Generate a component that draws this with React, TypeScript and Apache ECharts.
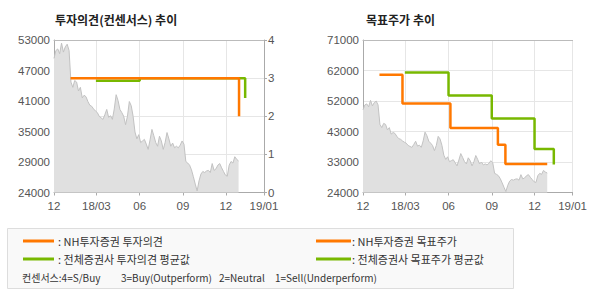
import React, { useEffect, useRef } from "react";
import * as echarts from "echarts";

// ---- axis domain ----
const axisStartDate = "2017-12-01";
const axisEndDate = "2019-02-20";
const xTickDates = ["2017-12-01", "2018-03-01", "2018-06-01", "2018-09-01", "2018-12-01", "2019-02-20"];
const xTickLabels = ["12", "18/03", "06", "09", "12", "19/01"];

// ---- left chart tick labels ----
const opinionPriceTickLabels = ["24000", "29000", "35000", "41000", "47000", "53000"];
const opinionPriceMin = 24000;
const opinionPriceMax = 53000;
const opinionMin = 0;
const opinionMax = 4;

// ---- right chart tick labels ----
const targetTickLabels = ["24000", "33000", "43000", "52000", "62000", "71000"];
const targetMin = 24000;
const targetMax = 71000;

// ---- stock price (sampled every 4 days from priceStartDate) ----
const priceStartDate = "2017-12-01";
const priceStepDays = 4;
const priceValues = [
  49500, 51000, 51300, 50400, 52400, 50700, 51700, 52200, 51000, 45000,
  44000, 45300, 45000, 43300, 44000, 42000, 42500, 42200, 41300, 40600,
  40400, 39900, 39500, 39200, 38500, 38200, 37900, 38800, 39800, 38300,
  38600, 37900, 39900, 42600, 41500, 39800, 39200, 38500, 36900, 38500,
  41300, 40500, 38500, 35500, 34200, 35000, 33500, 33800, 34100, 33200,
  32200, 34000, 36000, 34800, 33500, 32800, 34700, 33800, 32200, 33500,
  35400, 34200, 32800, 33400, 32500, 32800, 32500, 33000, 33800, 33200,
  29900, 29600, 29200, 28300, 27000, 25600, 24300, 26200, 27500, 28000,
  27800, 28100, 28200, 27800, 29500, 28200, 28500, 29200, 29500, 28700,
  28000, 27300, 27100, 29200, 29900, 29600, 30800, 30300, 30000,
];

// ---- investment opinion ----
const nhOpinionDates = ["2018-01-05", "2018-12-29"];
const nhOpinionValues = [3, 2];
const avgOpinionDates = ["2018-02-28", "2018-06-01", "2019-01-11"];
const avgOpinionValues = [2.93, 3, 2.48];

// ---- target price ----
const nhTargetDates = ["2018-01-05", "2018-02-23", "2018-06-05", "2018-09-14", "2018-09-30", "2018-12-28"];
const nhTargetValues = [60300, 51400, 43900, 38700, 32800, 32800];
const avgTargetDates = ["2018-02-28", "2018-06-01", "2018-09-01", "2018-12-01", "2019-01-11"];
const avgTargetValues = [61000, 53900, 46800, 37400, 32600];

// ---- legend texts ----
const legendLeft = [": NH투자증권 투자의견", ": 전체증권사 투자의견 평균값"];
const legendRight = [": NH투자증권 목표주가", ": 전체증권사 목표주가 평균값"];
const consensusTexts = ["컨센서스:4=S/Buy", "3=Buy(Outperform)", "2=Neutral", "1=Sell(Underperform)"];

const ORANGE = "#ff7800";
const GREEN = "#78b800";

const DAY = 86400000;
function toDate(s: string) {
  return new Date(s + "T00:00:00Z");
}
function fmt(d: Date) {
  return d.toISOString().slice(0, 10);
}
function buildCategories(): string[] {
  const out: string[] = [];
  const end = toDate(axisEndDate).getTime();
  for (let t = toDate(axisStartDate).getTime(); t <= end; t += DAY) out.push(fmt(new Date(t)));
  return out;
}
function pair(dates: string[], values: number[]) {
  return dates.map((d, i) => [d, values[i]]);
}

export default function App() {
  const ref = useRef<HTMLDivElement>(null);
  useEffect(() => {
    document.body.style.margin = "0";
    if (!ref.current) return;
    const chart = echarts.init(ref.current, null, { renderer: "svg" });
    const cats = buildCategories();
    const priceData = priceValues.map((v, i) => [
      fmt(new Date(toDate(priceStartDate).getTime() + i * priceStepDays * DAY)),
      v,
    ]);
    const axisColor = "#aaaaaa";
    const gridColor = "#e6e6e6";
    const labelColor = "#555555";
    const numFont = "Liberation Sans";
    const isTick = (_i: number, v: string) => xTickDates.indexOf(v) >= 0;

    const bottomX = (gridIndex: number) => ({
      type: "category",
      gridIndex,
      data: cats,
      boundaryGap: false,
      axisLine: { show: true, lineStyle: { color: axisColor } },
      axisTick: { show: true, interval: isTick, length: 3, lineStyle: { color: axisColor } },
      axisLabel: {
        interval: isTick,
        formatter: (v: string) => xTickLabels[xTickDates.indexOf(v)] ?? "",
        color: labelColor,
        fontFamily: numFont,
        fontSize: 11.5,
        margin: 7,
      },
      splitLine: { show: true, interval: isTick, lineStyle: { color: gridColor } },
    });
    const topX = (gridIndex: number) => ({
      type: "category",
      gridIndex,
      position: "top",
      data: cats,
      boundaryGap: false,
      axisLine: { show: true, lineStyle: { color: "#bbbbbb" } },
      axisTick: { show: false },
      axisLabel: { show: false },
      splitLine: { show: false },
    });
    const legendText = (x: number, y: number, text: string, size: number) => ({
      type: "text",
      x,
      y,
      style: { text, font: `${size}px 'Noto Sans CJK KR'`, fill: "#333", verticalAlign: "middle" },
    });

    const option: any = {
      animation: false,
      grid: [
        { left: 54, top: 40, width: 210, height: 152.5 },
        { left: 363, top: 40, width: 210, height: 152.5 },
      ],
      xAxis: [bottomX(0), topX(0), bottomX(1), topX(1)],
      yAxis: [
        {
          type: "category",
          gridIndex: 0,
          position: "left",
          data: opinionPriceTickLabels,
          boundaryGap: false,
          axisLine: { show: true, lineStyle: { color: axisColor } },
          axisTick: { show: false },
          axisLabel: { color: labelColor, fontFamily: numFont, fontSize: 11.5, margin: 4 },
          splitLine: { show: false },
        },
        { type: "value", gridIndex: 0, min: opinionPriceMin, max: opinionPriceMax, show: false },
        {
          type: "value",
          gridIndex: 0,
          position: "right",
          min: opinionMin,
          max: opinionMax,
          interval: 1,
          axisLine: { show: true, lineStyle: { color: axisColor } },
          axisTick: { show: true, length: 3, lineStyle: { color: axisColor } },
          axisLabel: { color: labelColor, fontFamily: numFont, fontSize: 11.5, margin: 4 },
          splitLine: { show: true, showMinLine: false, showMaxLine: false, lineStyle: { color: gridColor } },
        },
        {
          type: "category",
          gridIndex: 1,
          position: "left",
          data: targetTickLabels,
          boundaryGap: false,
          axisLine: { show: true, lineStyle: { color: axisColor } },
          axisTick: { show: false },
          axisLabel: { color: labelColor, fontFamily: numFont, fontSize: 11.5, margin: 4 },
          splitLine: { show: true, lineStyle: { color: gridColor } },
        },
        { type: "value", gridIndex: 1, min: targetMin, max: targetMax, show: false },
      ],
      series: [
        {
          name: "주가",
          type: "line",
          xAxisIndex: 0,
          yAxisIndex: 1,
          data: priceData,
          showSymbol: false,
          lineStyle: { color: "#c2c2c2", width: 1 },
          areaStyle: { color: "#e0e0e0", opacity: 1, origin: "start" },
          z: 1,
        },
        {
          name: "전체증권사 투자의견 평균값",
          type: "line",
          xAxisIndex: 0,
          yAxisIndex: 2,
          step: "end",
          data: pair(avgOpinionDates, avgOpinionValues),
          showSymbol: false,
          lineStyle: { color: GREEN, width: 2.5 },
          z: 3,
        },
        {
          name: "NH투자증권 투자의견",
          type: "line",
          xAxisIndex: 0,
          yAxisIndex: 2,
          step: "end",
          data: pair(nhOpinionDates, nhOpinionValues),
          showSymbol: false,
          lineStyle: { color: ORANGE, width: 2.5 },
          z: 4,
        },
        {
          name: "주가",
          type: "line",
          xAxisIndex: 2,
          yAxisIndex: 4,
          data: priceData,
          showSymbol: false,
          lineStyle: { color: "#c2c2c2", width: 1 },
          areaStyle: { color: "#e0e0e0", opacity: 1, origin: "start" },
          z: 1,
        },
        {
          name: "전체증권사 목표주가 평균값",
          type: "line",
          xAxisIndex: 2,
          yAxisIndex: 4,
          step: "end",
          data: pair(avgTargetDates, avgTargetValues),
          showSymbol: false,
          lineStyle: { color: GREEN, width: 2.5 },
          z: 3,
        },
        {
          name: "NH투자증권 목표주가",
          type: "line",
          xAxisIndex: 2,
          yAxisIndex: 4,
          step: "end",
          data: pair(nhTargetDates, nhTargetValues),
          showSymbol: false,
          lineStyle: { color: ORANGE, width: 2.5 },
          z: 4,
        },
      ],
      graphic: [
        {
          type: "text",
          left: 55,
          top: 13,
          style: { text: "투자의견(컨센서스) 추이", font: "bold 12px 'Noto Sans CJK KR'", fill: "#222" },
        },
        {
          type: "text",
          left: 366,
          top: 13,
          style: { text: "목표주가 추이", font: "bold 12px 'Noto Sans CJK KR'", fill: "#222" },
        },
        {
          type: "rect",
          shape: { x: 7.5, y: 228.5, width: 506, height: 60 },
          style: { fill: "#f9f9f9", stroke: "#dddddd", lineWidth: 1 },
        },
        { type: "line", shape: { x1: 23, y1: 241, x2: 54, y2: 241 }, style: { stroke: ORANGE, lineWidth: 3 } },
        { type: "line", shape: { x1: 23, y1: 259, x2: 54, y2: 259 }, style: { stroke: GREEN, lineWidth: 3 } },
        { type: "line", shape: { x1: 316, y1: 241, x2: 351, y2: 241 }, style: { stroke: ORANGE, lineWidth: 3 } },
        { type: "line", shape: { x1: 316, y1: 259, x2: 351, y2: 259 }, style: { stroke: GREEN, lineWidth: 3 } },
        legendText(58, 241, legendLeft[0], 11),
        legendText(58, 259, legendLeft[1], 11),
        legendText(352, 241, legendRight[0], 11),
        legendText(352, 259, legendRight[1], 11),
        legendText(22, 277, consensusTexts[0], 10),
        legendText(121, 277, consensusTexts[1], 10),
        legendText(219, 277, consensusTexts[2], 10),
        legendText(275, 277, consensusTexts[3], 10),
      ],
    };
    chart.setOption(option);
    return () => chart.dispose();
  }, []);
  return <div ref={ref} style={{ width: 590, height: 300 }} />;
}
